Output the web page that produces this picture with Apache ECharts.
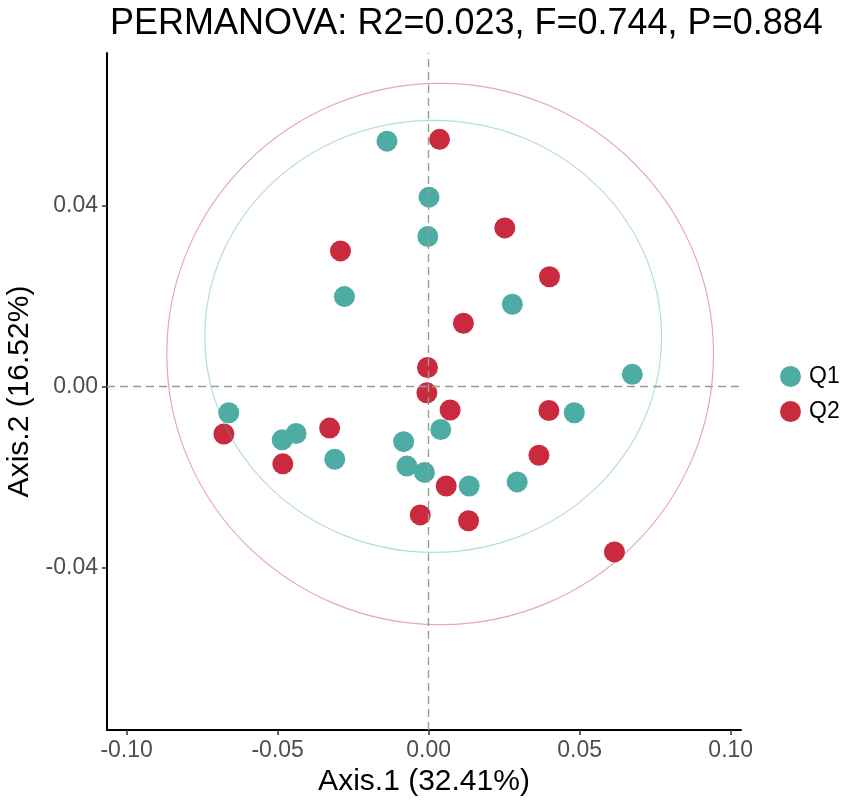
<!DOCTYPE html>
<html>
<head>
<meta charset="utf-8">
<title>PCoA</title>
<script src="https://cdn.jsdelivr.net/npm/echarts@6/dist/echarts.min.js"></script>
<style>
  html, body { margin: 0; padding: 0; background: #fff; }
  #main { width: 851px; height: 805px; }
</style>
</head>
<body>
<div id="main"></div>
<script>
// values
var groups = ['Q1', 'Q2'];
var q1X = [-0.0138, 0.0001, -0.0003, -0.0279, 0.0277, 0.0674, -0.0662, -0.0485, -0.0439, -0.0311, -0.0083, -0.0072, -0.0014, 0.0040, 0.0482, 0.0134, 0.0293];
var q1Y = [0.0543, 0.0419, 0.0332, 0.0199, 0.0182, 0.0027, -0.0058, -0.0118, -0.0104, -0.0161, -0.0122, -0.0176, -0.0190, -0.0095, -0.0058, -0.0220, -0.0211];
var q2X = [0.0036, -0.0292, -0.0004, -0.0006, 0.0252, 0.0400, 0.0115, -0.0678, -0.0483, -0.0328, -0.0028, 0.0071, 0.0398, 0.0365, 0.0058, 0.0132, 0.0615];
var q2Y = [0.0547, 0.0300, 0.0042, -0.0014, 0.0351, 0.0243, 0.0140, -0.0105, -0.0171, -0.0092, -0.0284, -0.0052, -0.0053, -0.0152, -0.0220, -0.0297, -0.0366];
// ellipse: centre x, centre y, radius x, radius y
var q1Ellipse = [0.0015, 0.0111, 0.0756, 0.0478];
var q2Ellipse = [0.0038, 0.0072, 0.0905, 0.0599];
var xTicks = [-0.10, -0.05, 0.00, 0.05, 0.10];
var yTicks = [-0.04, 0.00, 0.04];

var teal = '#4dada4';
var red = '#c92a3d';
var font = 'Liberation Sans, Arial, sans-serif';

function pairs(xs, ys) {
  return xs.map(function (x, i) { return [x, ys[i]]; });
}

function ellipseItem(color) {
  return function (params, api) {
    var c = api.coord([api.value(0), api.value(1)]);
    var s = api.size([api.value(2), api.value(3)]);
    return {
      type: 'ellipse',
      shape: { cx: c[0], cy: c[1], rx: s[0], ry: s[1] },
      style: { fill: 'none', stroke: color, lineWidth: 1.2, opacity: 0.42 }
    };
  };
}

var myChart = echarts.init(document.getElementById('main'));

var option = {
  animation: false,
  backgroundColor: '#fff',
  title: {
    text: 'PERMANOVA: R2=0.023, F=0.744, P=0.884',
    left: 105,
    top: 1,
    textStyle: { fontFamily: font, fontSize: 36, fontWeight: 'normal', color: '#000' }
  },
  legend: {
    data: groups,
    orient: 'vertical',
    left: 775,
    top: 360,
    icon: 'circle',
    itemWidth: 21,
    itemHeight: 21,
    itemGap: 12,
    textStyle: { fontFamily: font, fontSize: 23, color: '#000', padding: [0, 0, 0, 3] }
  },
  grid: { left: 107, right: 110, top: 53, bottom: 75, containLabel: false, outerBoundsMode: 'none' },
  xAxis: {
    type: 'value',
    min: -0.1065,
    max: 0.1034,
    name: 'Axis.1 (32.41%)',
    nameLocation: 'middle',
    nameGap: 35,
    nameTextStyle: { fontFamily: font, fontSize: 30, color: '#000' },
    splitLine: { show: false },
    axisLine: { onZero: false, lineStyle: { color: '#000', width: 2 } },
    axisTick: { customValues: xTicks, length: 5, lineStyle: { color: '#333', width: 1.5 } },
    axisLabel: {
      customValues: xTicks,
      margin: 9,
      fontFamily: font, fontSize: 23, color: '#4d4d4d',
      formatter: function (v) { return v.toFixed(2); }
    }
  },
  yAxis: {
    type: 'value',
    min: -0.0760,
    max: 0.0738,
    name: 'Axis.2 (16.52%)',
    nameLocation: 'middle',
    nameGap: 72,
    nameTextStyle: { fontFamily: font, fontSize: 30, color: '#000' },
    splitLine: { show: false },
    axisLine: { onZero: false, lineStyle: { color: '#000', width: 2 } },
    axisTick: { customValues: yTicks, length: 5, lineStyle: { color: '#333', width: 1.5 } },
    axisLabel: {
      customValues: yTicks,
      margin: 9,
      fontFamily: font, fontSize: 23, color: '#4d4d4d',
      formatter: function (v) { return v.toFixed(2); }
    }
  },
  series: [
    {
      name: 'zero lines',
      type: 'scatter',
      data: [],
      z: 1,
      silent: true,
      markLine: {
        silent: true,
        symbol: ['none', 'none'],
        label: { show: false },
        lineStyle: { color: '#9a9a9a', width: 1.4, type: [8, 5] },
        data: [{ xAxis: 0 }, { yAxis: 0 }]
      }
    },
    {
      name: 'Q1',
      type: 'scatter',
      z: 2,
      symbolSize: 21,
      itemStyle: { color: teal, opacity: 1 },
      data: pairs(q1X, q1Y)
    },
    {
      name: 'Q2',
      type: 'scatter',
      z: 2,
      symbolSize: 21,
      itemStyle: { color: red, opacity: 1 },
      data: pairs(q2X, q2Y)
    },
    {
      name: 'Q1 ellipse',
      type: 'custom',
      z: 3,
      silent: true,
      renderItem: ellipseItem(teal),
      data: [q1Ellipse]
    },
    {
      name: 'Q2 ellipse',
      type: 'custom',
      z: 3,
      silent: true,
      renderItem: ellipseItem(red),
      data: [q2Ellipse]
    }
  ]
};

myChart.setOption(option);
window.addEventListener('resize', function () { myChart.resize(); });
</script>
</body>
</html>
